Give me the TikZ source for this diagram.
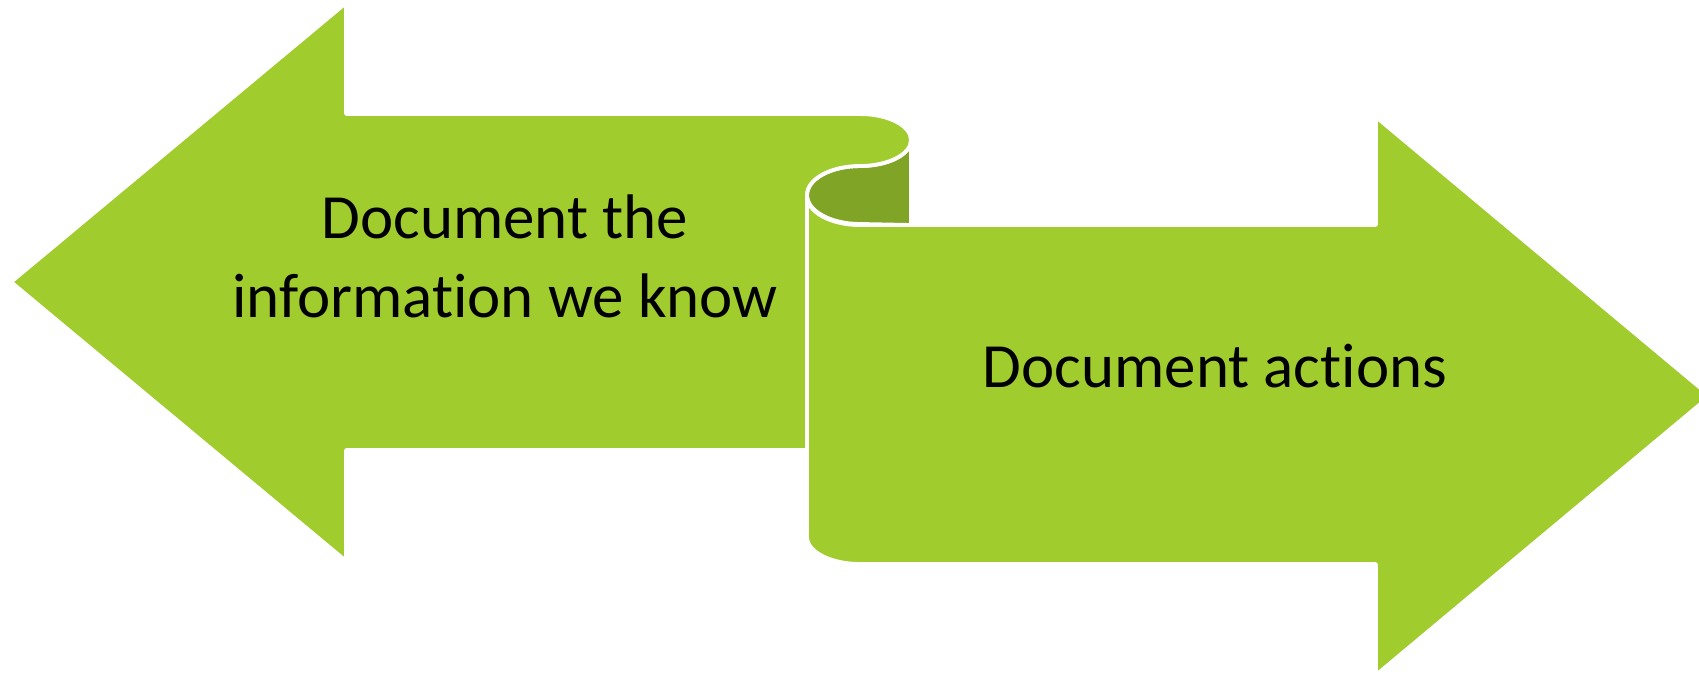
\documentclass[tikz,border=0pt]{standalone}
\usepackage{fontspec}
\setmainfont{Carlito}[Ligatures=NoCommon]
\definecolor{leaf}{RGB}{160,204,46}
\definecolor{leafdark}{RGB}{128,165,38}
\tikzset{
  ribbon/.style={fill=leaf,draw=white,line width=1.1pt,line join=round},
  ribbonback/.style={fill=leafdark,draw=white,line width=1.1pt,line join=round},
  label/.style={font=\fontsize{17.9pt}{22.2pt}\selectfont,inner sep=0pt,align=center}
}
\begin{document}
\begin{tikzpicture}[x=0.01cm,y=-0.01cm]
  \useasboundingbox (0,0) rectangle (1699,675);
  % back of the scroll
  \draw[ribbonback] (911,140) arc[start angle=0,end angle=90,x radius=51,y radius=26]
    arc[start angle=-90,end angle=-270,x radius=53,y radius=29] -- (911,225) -- cycle;
  % left arrow
  \draw[ribbon] (11,282) -- (346,3) -- (346,114) -- (860,114)
    arc[start angle=-90,end angle=90,x radius=51,y radius=26]
    arc[start angle=-90,end angle=-180,x radius=53,y radius=29]
    -- (807,450) -- (346,450) -- (346,561) -- cycle;
  % right arrow
  \draw[ribbon] (807,196) arc[start angle=180,end angle=90,x radius=53,y radius=29]
    -- (1376,225) -- (1376,117) -- (1710,396) -- (1376,675) -- (1376,564) -- (860,564)
    arc[start angle=90,end angle=180,x radius=53,y radius=27] -- cycle;
  \node[label,anchor=base] (know) at (505,317) {Document the\\information we know};
  \node[label,anchor=base] (actions) at (1215,387) {Document actions};
\end{tikzpicture}
\end{document}
